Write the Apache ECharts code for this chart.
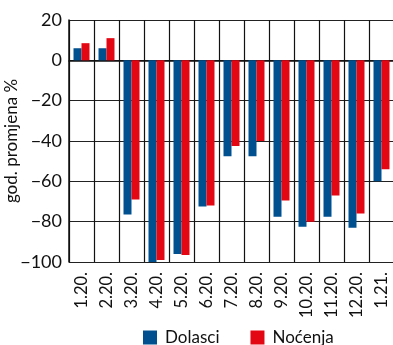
<!DOCTYPE html>
<html>
<head>
<meta charset="utf-8">
<script src="https://cdn.jsdelivr.net/npm/echarts@6/dist/echarts.min.js"></script>
<style>
  html, body { margin: 0; padding: 0; background: #fff; }
  #chart { width: 393px; height: 345px; }
</style>
</head>
<body>
<div id="chart"></div>
<script>
// Monthly year-on-year change in tourist arrivals and overnight stays
const months = ['1.20.', '2.20.', '3.20.', '4.20.', '5.20.', '6.20.', '7.20.', '8.20.', '9.20.', '10.20.', '11.20.', '12.20.', '1.21.'];
const dolasci = [6, 6, -76.5, -100, -96, -72.5, -47.5, -47.5, -77.5, -82.5, -77.5, -83, -60];
const nocenja = [8.5, 11, -69, -99, -96.5, -72, -42.5, -40, -69.5, -80, -67, -76, -54];
const yTicks = { min: -100, max: 20, interval: 20 };

const FONT = 'Lato, "DejaVu Sans", sans-serif';
const BLUE = '#00508f';
const RED = '#e30613';

const chart = echarts.init(document.getElementById('chart'), null, { renderer: 'canvas' });
chart.setOption({
  animation: false,
  textStyle: { fontFamily: FONT, color: '#111' },
  grid: { left: 69, top: 20, right: -1, bottom: 83, containLabel: false, outerBoundsMode: 'none' },
  legend: {
    left: 143,
    top: 329,
    padding: 0,
    itemWidth: 14,
    itemHeight: 14,
    itemGap: 31,
    icon: 'rect',
    textStyle: { fontFamily: FONT, fontSize: 17, color: '#111', padding: [0, 0, 0, 3] },
    data: ['Dolasci', 'Noćenja']
  },
  xAxis: {
    type: 'category',
    data: months,
    boundaryGap: true,
    axisLine: { show: true, lineStyle: { color: '#111', width: 1.5 } },
    axisTick: { show: false },
    splitLine: { show: true, lineStyle: { color: '#111', width: 1.2 } },
    axisLabel: {
      rotate: 90,
      margin: 10,
      fontSize: 16.5,
      color: '#111',
      fontFamily: FONT,
      interval: 0
    }
  },
  yAxis: {
    type: 'value',
    min: yTicks.min,
    max: yTicks.max,
    interval: yTicks.interval,
    name: 'god. promjena %',
    nameLocation: 'middle',
    nameGap: 49,
    nameRotate: 90,
    nameMoveOverlap: false,
    nameTextStyle: { fontSize: 17, color: '#111', fontFamily: FONT },
    axisLine: { show: true, lineStyle: { color: '#111', width: 1.5 } },
    axisTick: { show: false },
    splitLine: { show: true, lineStyle: { color: '#222', width: 1.2 } },
    axisLabel: {
      margin: 7,
      fontSize: 18,
      color: '#111',
      fontFamily: FONT,
      formatter: v => (v < 0 ? '\u2212' + Math.abs(v) : String(v))
    }
  },
  series: [
    {
      name: 'Dolasci',
      type: 'bar',
      data: dolasci,
      barWidth: 8,
      barGap: '0%',
      itemStyle: { color: BLUE }
    },
    {
      name: 'Noćenja',
      type: 'bar',
      data: nocenja,
      barWidth: 8,
      barGap: '0%',
      itemStyle: { color: RED }
    }
  ]
});
</script>
</body>
</html>
